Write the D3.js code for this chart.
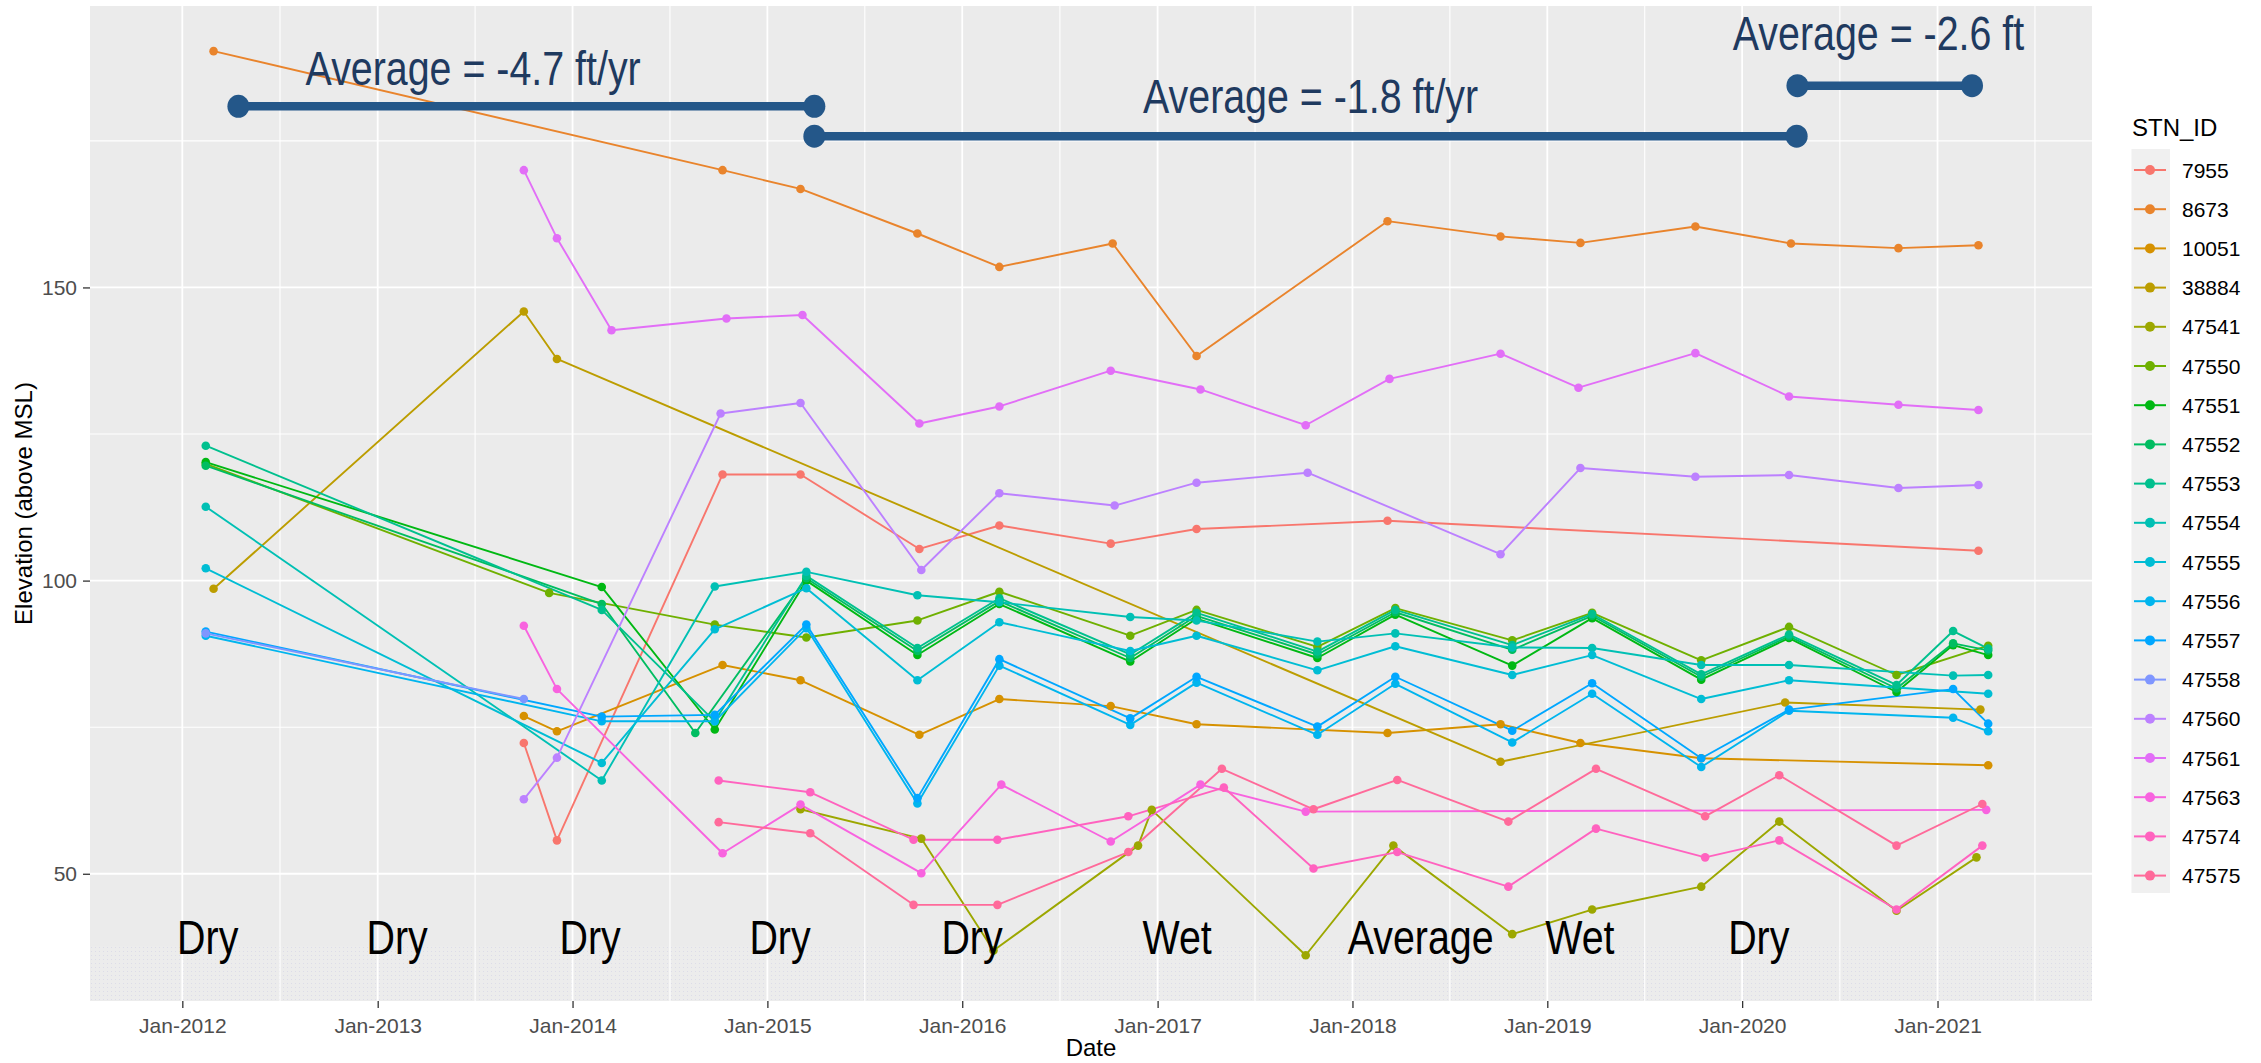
<!DOCTYPE html>
<html>
<head>
<meta charset="utf-8">
<script src="https://cdn.jsdelivr.net/npm/d3@7"></script>
<style>
body { margin: 0; background: #fff; }
svg { display: block; font-family: "Liberation Sans", Arial, sans-serif; }
</style>
</head>
<body>
<div id="chart"></div>
<script>
// station ids, in legend order
var stations = ["7955", "8673", "10051", "38884", "47541", "47550", "47551", "47552", "47553",
  "47554", "47555", "47556", "47557", "47558", "47560", "47561", "47563", "47574", "47575"];

// [decimal year, elevation (ft above MSL)]
var stn7955 = [[2013.75, 72.3], [2013.92, 55.7], [2014.77, 118.1], [2015.17, 118.1], [2015.78, 105.4],
  [2016.19, 109.4], [2016.76, 106.3], [2017.2, 108.8], [2018.18, 110.2], [2021.21, 105.1]];
var stn8673 = [[2012.16, 190.3], [2014.77, 170.0], [2015.17, 166.8], [2015.77, 159.2], [2016.19, 153.5],
  [2016.77, 157.5], [2017.2, 138.3], [2018.18, 161.3], [2018.76, 158.7], [2019.17, 157.6],
  [2019.76, 160.4], [2020.25, 157.5], [2020.8, 156.7], [2021.21, 157.2]];
var stn10051 = [[2013.75, 76.9], [2013.92, 74.3], [2014.77, 85.6], [2015.17, 83.0], [2015.78, 73.7],
  [2016.19, 79.8], [2016.76, 78.6], [2017.2, 75.5], [2018.18, 74.0], [2018.76, 75.5],
  [2019.17, 72.3], [2019.79, 69.7], [2021.26, 68.5]];
var stn38884 = [[2012.16, 98.6], [2013.75, 145.9], [2013.92, 137.8], [2018.76, 69.1], [2020.22, 79.2],
  [2021.22, 78.0]];
var stn47541 = [[2015.17, 61.0], [2015.79, 56.0], [2016.16, 36.9], [2016.9, 54.8], [2016.97, 60.9],
  [2017.76, 36.1], [2018.21, 54.8], [2018.82, 39.7], [2019.23, 43.9], [2019.79, 47.8],
  [2020.19, 58.9], [2020.79, 43.7], [2021.2, 52.8]];
var stn47550 = [[2012.12, 119.9], [2013.88, 97.9], [2014.73, 92.5], [2015.2, 90.3], [2015.77, 93.2],
  [2016.19, 98.1], [2016.86, 90.6], [2017.2, 95.0], [2017.82, 88.7], [2018.22, 95.3],
  [2018.82, 89.8], [2019.23, 94.5], [2019.79, 86.4], [2020.24, 92.1], [2020.79, 83.9], [2021.26, 88.9]];
var stn47551 = [[2012.12, 120.2], [2014.15, 98.9], [2014.73, 74.6], [2015.2, 100.0], [2015.77, 87.3],
  [2016.19, 96.0], [2016.86, 86.2], [2017.2, 93.5], [2017.82, 86.8], [2018.22, 94.2],
  [2018.82, 85.5], [2019.23, 93.6], [2019.79, 83.1], [2020.24, 90.2], [2020.79, 81.0],
  [2021.08, 89.0], [2021.26, 87.3]];
var stn47552 = [[2012.12, 119.6], [2014.15, 96.0], [2014.63, 74.0], [2015.2, 100.4], [2015.77, 88.0],
  [2016.19, 96.5], [2016.86, 86.8], [2017.2, 94.0], [2017.82, 87.4], [2018.22, 94.6],
  [2018.82, 88.2], [2019.23, 94.0], [2019.79, 83.6], [2020.24, 90.5], [2020.79, 81.6],
  [2021.08, 89.3], [2021.26, 88.1]];
var stn47553 = [[2012.12, 123.0], [2014.15, 95.0], [2014.73, 76.0], [2015.2, 100.8], [2015.77, 88.5],
  [2016.19, 97.0], [2016.86, 87.4], [2017.2, 94.5], [2017.82, 87.9], [2018.22, 95.0],
  [2018.82, 89.0], [2019.23, 94.3], [2019.79, 84.0], [2020.24, 90.8], [2020.79, 82.2],
  [2021.08, 91.4], [2021.26, 88.4]];
var stn47554 = [[2012.12, 112.6], [2014.15, 65.9], [2014.73, 99.0], [2015.2, 101.5], [2015.77, 97.5],
  [2016.19, 96.3], [2016.86, 93.8], [2017.2, 93.2], [2017.82, 89.6], [2018.22, 91.0],
  [2018.82, 88.6], [2019.23, 88.5], [2019.79, 85.6], [2020.24, 85.6], [2021.08, 83.8], [2021.26, 83.9]];
var stn47555 = [[2012.12, 102.1], [2014.15, 68.9], [2014.73, 91.7], [2015.2, 98.7], [2015.77, 83.0],
  [2016.19, 92.9], [2016.86, 88.0], [2017.2, 90.6], [2017.82, 84.7], [2018.22, 88.8],
  [2018.82, 83.9], [2019.23, 87.3], [2019.79, 79.8], [2020.24, 83.0], [2021.26, 80.7]];
var stn47556 = [[2012.12, 90.6], [2014.15, 76.0], [2014.73, 76.0], [2015.2, 91.9], [2015.77, 62.0],
  [2016.19, 85.5], [2016.86, 75.4], [2017.2, 82.6], [2017.82, 73.7], [2018.22, 82.4],
  [2018.82, 72.4], [2019.23, 80.7], [2019.79, 68.2], [2020.24, 77.8], [2021.08, 76.6], [2021.26, 74.3]];
var stn47557 = [[2012.12, 91.3], [2014.15, 76.8], [2014.73, 77.1], [2015.2, 92.5], [2015.77, 62.9],
  [2016.19, 86.6], [2016.86, 76.5], [2017.2, 83.6], [2017.82, 75.1], [2018.22, 83.6],
  [2018.82, 74.4], [2019.23, 82.5], [2019.79, 69.7], [2020.24, 78.0], [2021.08, 81.5], [2021.26, 75.6]];
var stn47558 = [[2012.12, 91.0], [2013.75, 79.8]];
var stn47560 = [[2013.75, 62.7], [2013.92, 69.8], [2014.76, 128.5], [2015.17, 130.3], [2015.79, 101.8],
  [2016.19, 114.9], [2016.78, 112.8], [2017.2, 116.7], [2017.77, 118.4], [2018.76, 104.5],
  [2019.17, 119.2], [2019.76, 117.7], [2020.24, 118.0], [2020.8, 115.8], [2021.21, 116.3]];
var stn47561 = [[2013.75, 170.0], [2013.92, 158.4], [2014.2, 142.7], [2014.79, 144.7], [2015.18, 145.3],
  [2015.78, 126.8], [2016.19, 129.7], [2016.76, 135.8], [2017.22, 132.6], [2017.76, 126.5],
  [2018.19, 134.4], [2018.76, 138.7], [2019.16, 132.9], [2019.76, 138.8], [2020.24, 131.4],
  [2020.8, 130.0], [2021.21, 129.1]];
var stn47563 = [[2013.75, 92.3], [2013.92, 81.5], [2014.77, 53.5], [2015.17, 61.8], [2015.79, 50.1],
  [2016.2, 65.2], [2016.76, 55.5], [2017.22, 65.2], [2017.76, 60.6], [2021.25, 60.9]];
var stn47574 = [[2014.75, 65.9], [2015.22, 63.9], [2015.75, 55.8], [2016.18, 55.8], [2016.85, 59.8],
  [2017.34, 64.7], [2017.8, 50.9], [2018.23, 53.7], [2018.8, 47.8], [2019.25, 57.7],
  [2019.81, 52.8], [2020.19, 55.7], [2020.79, 43.9], [2021.23, 54.8]];
var stn47575 = [[2014.75, 58.8], [2015.22, 56.9], [2015.75, 44.7], [2016.18, 44.7], [2016.85, 53.7],
  [2017.33, 67.9], [2017.8, 61.0], [2018.23, 66.0], [2018.8, 58.9], [2019.25, 67.9],
  [2019.81, 59.8], [2020.19, 66.8], [2020.79, 54.8], [2021.23, 61.9]];

var seriesData = [stn7955, stn8673, stn10051, stn38884, stn47541, stn47550, stn47551, stn47552,
  stn47553, stn47554, stn47555, stn47556, stn47557, stn47558, stn47560, stn47561, stn47563,
  stn47574, stn47575];

// axis breaks
var xTickYears = [2012, 2013, 2014, 2015, 2016, 2017, 2018, 2019, 2020, 2021];
var xMinorYears = [2011.5, 2012.5, 2013.5, 2014.5, 2015.5, 2016.5, 2017.5, 2018.5, 2019.5, 2020.5, 2021.5];
var yTicks = [50, 100, 150];
var yMinor = [75, 125, 175];

// water year labels along the bottom
var seasonLabels = ["Dry", "Dry", "Dry", "Dry", "Dry", "Wet", "Average", "Wet", "Dry"];
var seasonYears = [2012.13, 2013.10, 2014.09, 2015.065, 2016.05, 2017.10, 2018.35, 2019.167, 2020.085];
var seasonLevel = 36.3;

// average decline annotations
var rateLabels = ["Average = -4.7 ft/yr", "Average = -1.8 ft/yr", "Average = -2.6 ft"];
var rateStart = [2012.287, 2015.241, 2020.283];
var rateEnd = [2015.241, 2020.279, 2021.177];
var rateLevel = [180.9, 175.8, 184.4];
var rateTextYear = [2013.49, 2017.785, 2020.698];
var rateTextLevel = [184.5, 179.8, 190.5];

// ggplot2 default hue palette (polar LUV, l=65, c=100)
function luvToHex(h, c, l) {
  var hr = h * Math.PI / 180;
  var U = c * Math.cos(hr), V = c * Math.sin(hr);
  var Xn = 95.047, Yn = 100, Zn = 108.883;
  var den = Xn + 15 * Yn + 3 * Zn;
  var un = 4 * Xn / den, vn = 9 * Yn / den;
  var Y = Yn * Math.pow((l + 16) / 116, 3);
  var u = U / (13 * l) + un, v = V / (13 * l) + vn;
  var X = 9 * Y * u / (4 * v);
  var Z = Y * (12 - 3 * u - 20 * v) / (4 * v);
  X /= 100; Y /= 100; Z /= 100;
  var r = 3.2404542 * X - 1.5371385 * Y - 0.4985314 * Z;
  var g = -0.9692660 * X + 1.8760108 * Y + 0.0415560 * Z;
  var b = 0.0556434 * X - 0.2040259 * Y + 1.0572252 * Z;
  function gam(t) {
    t = t <= 0.0031308 ? 12.92 * t : 1.055 * Math.pow(t, 1 / 2.4) - 0.055;
    return Math.max(0, Math.min(1, t));
  }
  return d3.rgb(gam(r) * 255, gam(g) * 255, gam(b) * 255).formatHex();
}
var colors = stations.map(function(s, i) {
  return luvToHex(15 + i * 360 / stations.length, 100, 65);
});

function yearToDate(t) {
  var y = Math.floor(t);
  var a = Date.UTC(y, 0, 1), b = Date.UTC(y + 1, 0, 1);
  return new Date(a + (t - y) * (b - a));
}

//Set up our chart
var svgWidth = 2261;
var svgHeight = 1063;
var margin = {top: 6, right: 169, bottom: 62, left: 90};
var width = svgWidth - margin.left - margin.right;
var height = svgHeight - margin.top - margin.bottom;

var svg = d3.select("#chart")
  .append("svg")
  .attr("width", svgWidth)
  .attr("height", svgHeight);

var defs = svg.append("defs");
var dots = defs.append("pattern")
  .attr("id", "dots")
  .attr("width", 4)
  .attr("height", 4)
  .attr("patternUnits", "userSpaceOnUse");
dots.append("rect").attr("width", 4).attr("height", 4).attr("fill", "#ECECEC");
dots.append("rect").attr("x", 1).attr("y", 1).attr("width", 1).attr("height", 1).attr("fill", "#DCDCE8");

var chartGroup = svg.append("g")
  .attr("transform", `translate(${margin.left}, ${margin.top})`);

var xScale = d3.scaleUtc()
  .domain([yearToDate(2011.5262), yearToDate(2021.7928)])
  .range([0, width]);
var yScale = d3.scaleLinear()
  .domain([28.3, 198])
  .range([height, 0]);

// panel background
chartGroup.append("rect")
  .attr("width", width)
  .attr("height", height)
  .attr("fill", "#EBEBEB");
chartGroup.append("rect")
  .attr("y", yScale(37.7))
  .attr("width", width)
  .attr("height", height - yScale(37.7))
  .attr("fill", "url(#dots)");

// grid lines
var xMinorIn = xMinorYears.filter(function(t) {
  var px = xScale(yearToDate(t));
  return px > 0 && px < width;
});
chartGroup.selectAll(".xminor")
  .data(xMinorIn)
  .enter()
  .append("line")
  .attr("x1", d => xScale(yearToDate(d)))
  .attr("x2", d => xScale(yearToDate(d)))
  .attr("y1", 0)
  .attr("y2", height)
  .attr("stroke", "#fff")
  .attr("stroke-width", 1.1);
chartGroup.selectAll(".yminor")
  .data(yMinor)
  .enter()
  .append("line")
  .attr("x1", 0)
  .attr("x2", width)
  .attr("y1", d => yScale(d))
  .attr("y2", d => yScale(d))
  .attr("stroke", "#fff")
  .attr("stroke-width", 1.1);
chartGroup.selectAll(".xmajor")
  .data(xTickYears)
  .enter()
  .append("line")
  .attr("x1", d => xScale(yearToDate(d)))
  .attr("x2", d => xScale(yearToDate(d)))
  .attr("y1", 0)
  .attr("y2", height)
  .attr("stroke", "#fff")
  .attr("stroke-width", 1.8);
chartGroup.selectAll(".ymajor")
  .data(yTicks)
  .enter()
  .append("line")
  .attr("x1", 0)
  .attr("x2", width)
  .attr("y1", d => yScale(d))
  .attr("y2", d => yScale(d))
  .attr("stroke", "#fff")
  .attr("stroke-width", 1.8);

// axes
var bottomAxis = d3.axisBottom(xScale)
  .tickValues(xTickYears.map(d => yearToDate(d)))
  .tickFormat(d3.utcFormat("%b-%Y"))
  .tickSize(7)
  .tickPadding(10);
var leftAxis = d3.axisLeft(yScale)
  .tickValues(yTicks)
  .tickSize(7)
  .tickPadding(6);

var xAxis = chartGroup.append("g")
  .attr("transform", `translate(0, ${height})`)
  .call(bottomAxis);
var yAxis = chartGroup.append("g")
  .call(leftAxis);
[xAxis, yAxis].forEach(function(ax) {
  ax.select(".domain").remove();
  ax.selectAll(".tick line").attr("stroke", "#333333").attr("stroke-width", 1.3);
  ax.selectAll(".tick text")
    .attr("fill", "#4D4D4D")
    .style("font-size", "21px")
    .style("font-family", "'Liberation Sans', Arial, sans-serif");
});

// axis titles
svg.append("text")
  .attr("x", margin.left + width / 2)
  .attr("y", 1056)
  .attr("text-anchor", "middle")
  .style("font-size", "24px")
  .attr("fill", "#000")
  .text("Date");
svg.append("text")
  .attr("transform", `translate(32, ${margin.top + height / 2}) rotate(-90)`)
  .attr("text-anchor", "middle")
  .style("font-size", "24px")
  .attr("fill", "#000")
  .text("Elevation (above MSL)");

// lines then points
var line = d3.line()
  .x(d => xScale(yearToDate(d[0])))
  .y(d => yScale(d[1]));

var linesGroup = chartGroup.append("g");
seriesData.forEach(function(series, i) {
  linesGroup.append("path")
    .datum(series)
    .attr("d", line)
    .attr("fill", "none")
    .attr("stroke", colors[i])
    .attr("stroke-width", 1.9)
    .attr("stroke-linejoin", "round");
});
var pointsGroup = chartGroup.append("g");
seriesData.forEach(function(series, i) {
  pointsGroup.selectAll(null)
    .data(series)
    .enter()
    .append("circle")
    .attr("cx", d => xScale(yearToDate(d[0])))
    .attr("cy", d => yScale(d[1]))
    .attr("r", 4.3)
    .attr("fill", colors[i]);
});

// narrow face for the pasted annotations
function narrow(sel) {
  sel.each(function() {
    var node = d3.select(this);
    node.style("font-family", "'Liberation Sans', Arial, sans-serif");
    var w = this.getComputedTextLength();
    node.style("font-family", "'Liberation Sans Narrow', 'Liberation Sans', Arial, sans-serif")
      .attr("textLength", w * 0.82)
      .attr("lengthAdjust", "spacingAndGlyphs");
  });
}

// season labels
chartGroup.selectAll(".season")
  .data(seasonLabels)
  .enter()
  .append("text")
  .attr("x", (d, i) => xScale(yearToDate(seasonYears[i])))
  .attr("y", yScale(seasonLevel))
  .attr("text-anchor", "middle")
  .style("font-size", "48px")
  .attr("fill", "#000")
  .text(d => d)
  .call(narrow);

// average bars
var barColor = "#245789";
var annGroup = chartGroup.append("g");
rateLabels.forEach(function(label, i) {
  var x1 = xScale(yearToDate(rateStart[i]));
  var x2 = xScale(yearToDate(rateEnd[i]));
  var yy = yScale(rateLevel[i]);
  annGroup.append("line")
    .attr("x1", x1)
    .attr("x2", x2)
    .attr("y1", yy)
    .attr("y2", yy)
    .attr("stroke", barColor)
    .attr("stroke-width", 8.5);
  annGroup.selectAll(null)
    .data([x1, x2])
    .enter()
    .append("ellipse")
    .attr("cx", d => d)
    .attr("cy", yy)
    .attr("rx", 11)
    .attr("ry", 11.5)
    .attr("fill", barColor);
  annGroup.append("text")
    .attr("x", xScale(yearToDate(rateTextYear[i])))
    .attr("y", yScale(rateTextLevel[i]))
    .attr("text-anchor", "middle")
    .style("font-size", "48px")
    .attr("fill", "#1F3A5F")
    .text(label)
    .call(narrow);
});

// legend
var legend = svg.append("g");
legend.append("text")
  .attr("x", 2132)
  .attr("y", 136)
  .style("font-size", "24px")
  .attr("fill", "#000")
  .text("STN_ID");
legend.append("rect")
  .attr("x", 2131.5)
  .attr("y", 149)
  .attr("width", 38.5)
  .attr("height", 744)
  .attr("fill", "#F0F0F0");
var items = legend.selectAll(".item")
  .data(stations)
  .enter()
  .append("g")
  .attr("transform", (d, i) => `translate(0, ${170 + i * 39.2})`);
items.append("line")
  .attr("x1", 2134)
  .attr("x2", 2166)
  .attr("stroke", (d, i) => colors[i])
  .attr("stroke-width", 2);
items.append("circle")
  .attr("cx", 2150)
  .attr("r", 5)
  .attr("fill", (d, i) => colors[i]);
items.append("text")
  .attr("x", 2182)
  .attr("dy", "0.36em")
  .style("font-size", "21px")
  .attr("fill", "#000")
  .text(d => d);
</script>
</body>
</html>
